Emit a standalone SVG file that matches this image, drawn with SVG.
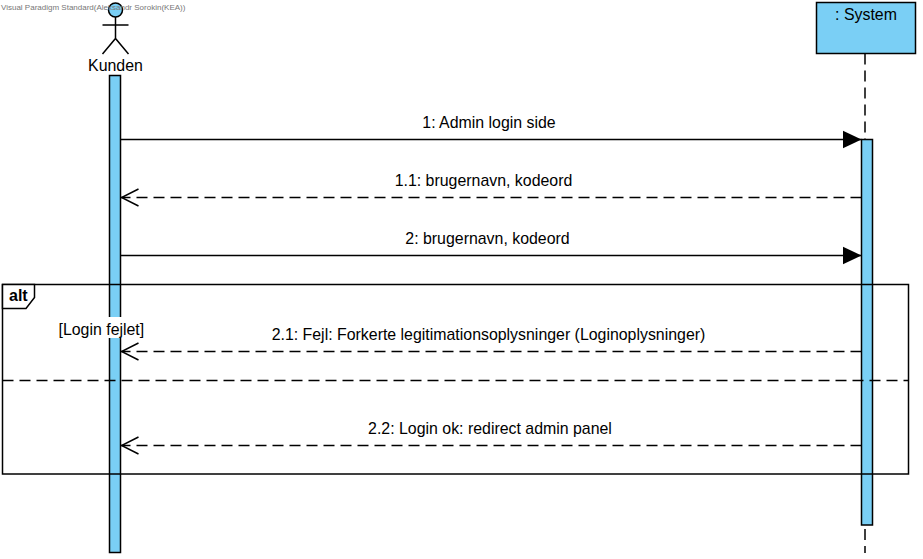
<svg xmlns="http://www.w3.org/2000/svg" width="923" height="559" viewBox="0 0 923 559">
<style>
.t{font-family:"Liberation Sans",Arial,sans-serif;font-size:15.9px;fill:#000}
.m{text-anchor:middle}
.s{fill:none;stroke:#000;stroke-width:1.5}
.d{fill:none;stroke:#000;stroke-width:1.5;stroke-dasharray:11 6}
.b{fill:#7ACFF5;stroke:#000;stroke-width:1.5}
</style>
<defs>
<marker id="open" markerUnits="userSpaceOnUse" markerWidth="20" markerHeight="22" refX="19" refY="10" orient="auto"><path d="M1.500 1.500L18.500 10L1.500 18.500" fill="none" stroke="#000" stroke-width="1.5"/></marker>
<marker id="fill" markerUnits="userSpaceOnUse" markerWidth="20" markerHeight="20" refX="19" refY="10" orient="auto"><path d="M0 1L19 10L0 19Z" fill="#000"/></marker>
</defs>
<rect width="923" height="559" fill="#fff"/>
<g id="lifelines">
<path class="d" d="M865 53.500V139"/>
<path class="d" d="M865 529V553"/>
</g>
<g id="actor-kunden">
<circle class="b" cx="115.500" cy="10" r="7"/>
<path class="s" d="M115.500 17V38.500M102.500 25H128.500M102.500 54L115.500 38.500L128.500 54"/>
<text class="t m" x="115.500" y="71">Kunden</text>
<rect class="b" x="109.500" y="75.500" width="11" height="477"/>
</g>
<g id="system">
<rect class="b" x="816.500" y="2.500" width="99" height="51"/>
<text class="t m" x="866" y="20">: System</text>
<rect class="b" x="861.500" y="139.500" width="11" height="385.500"/>
</g>
<g id="connectors">
<path class="s" d="M121 139.500H861.500" marker-end="url(#fill)"/>
<path class="d" d="M861.500 197.500H121" marker-end="url(#open)"/>
<path class="s" d="M121 255.500H861.500" marker-end="url(#fill)"/>
<path class="d" d="M861.500 351.500H121" marker-end="url(#open)"/>
<path class="d" d="M861.500 445.500H121" marker-end="url(#open)"/>
</g>
<g id="labels">
<text class="t m" x="489" y="128">1: Admin login side</text>
<text class="t m" x="483.500" y="186">1.1: brugernavn, kodeord</text>
<text class="t m" x="487.500" y="244">2: brugernavn, kodeord</text>
<text class="t m" x="488.500" y="340">2.1: Fejl: Forkerte legitimationsoplysninger (Loginoplysninger)</text>
<text class="t m" x="490" y="434">2.2: Login ok: redirect admin panel</text>
</g>
<g id="frame-alt">
<rect class="s" x="2.500" y="284.500" width="906" height="189.500"/>
<path fill="#fff" stroke="#000" stroke-width="1.5" d="M2.500 284.500H34.500V297.500L26 308.500H2.500Z"/>
<text x="9" y="301" font-family="Liberation Sans,Arial,sans-serif" font-size="16" font-weight="bold">alt</text>
<path class="d" d="M2.500 380.500H908.500"/>
<rect x="58" y="317" width="86" height="21" fill="#fff"/>
<text class="t" x="58.500" y="335">[Login fejlet]</text>
</g>
<text id="watermark" x="1" y="10" font-family="Liberation Sans,Arial,sans-serif" font-size="8" fill="#777">Visual Paradigm Standard(Aleksandr Sorokin(KEA))</text>
</svg>
